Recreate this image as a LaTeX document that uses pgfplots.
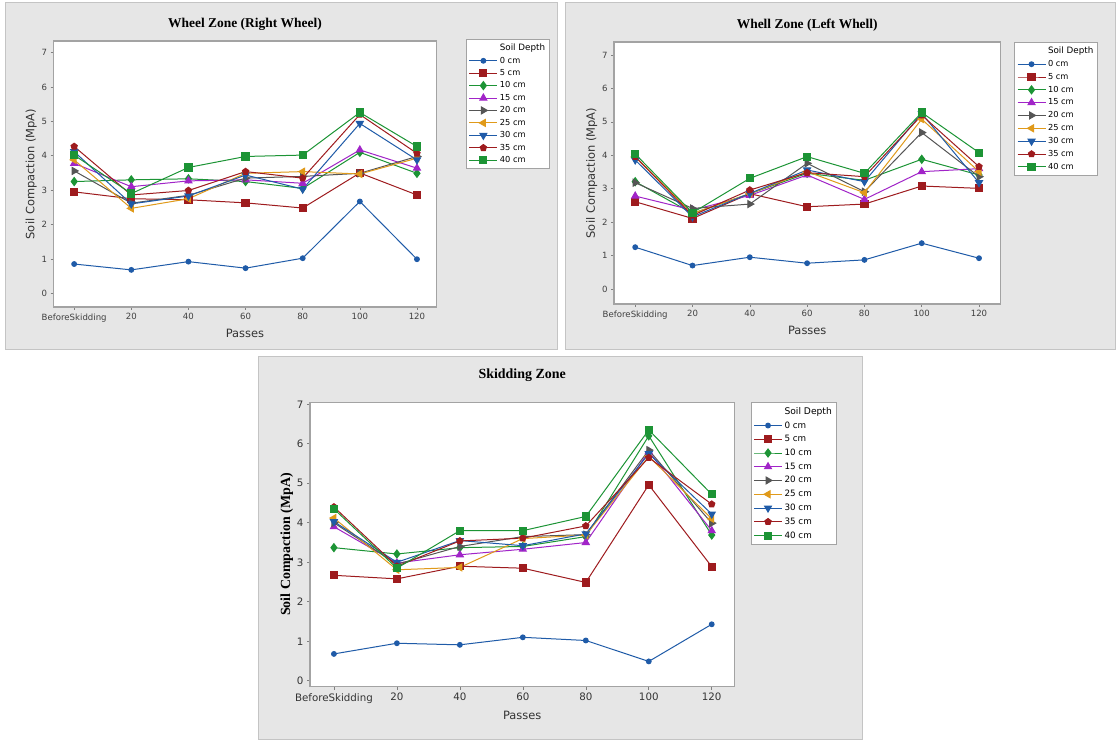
\documentclass[border=0pt]{standalone}
\usepackage{fontspec}
\setmainfont{DejaVu Sans}
\newfontfamily\serifb{Liberation Serif}
\usepackage{pgfplots}
\usepackage{pgfplotstable}
\pgfplotsset{compat=1.18}
\definecolor{cBlue}{HTML}{1F5BA8}
\definecolor{cRed}{HTML}{9E1B1E}
\definecolor{cGreen}{HTML}{1C9435}
\definecolor{cPurple}{HTML}{A124C8}
\definecolor{cGray}{HTML}{555555}
\definecolor{cOrange}{HTML}{E09A1A}
\definecolor{panelbg}{HTML}{E6E6E6}
\definecolor{panelline}{HTML}{C4C4C4}
\definecolor{frame}{HTML}{A3A3A3}

% Wheel zone, right wheel
\pgfplotstableread{
x d0 d5 d10 d15 d20 d25 d30 d35 d40
0 0.85 2.95 3.25 3.78 3.56 3.88 4.12 4.27 4.02
1 0.68 2.75 3.30 3.10 2.62 2.47 2.60 2.86 2.90
2 0.92 2.72 3.33 3.27 2.85 2.75 2.83 2.99 3.66
3 0.73 2.63 3.25 3.30 3.35 3.49 3.44 3.54 3.98
4 1.02 2.48 3.05 3.20 3.40 3.54 3.03 3.35 4.02
5 2.67 3.50 4.10 4.17 3.49 3.47 4.94 5.20 5.26
6 0.99 2.86 3.49 3.64 3.98 3.93 3.88 4.07 4.27
}\tabR
% Wheel zone, left wheel
\pgfplotstableread{
x d0 d5 d10 d15 d20 d25 d30 d35 d40
0 1.25 2.61 3.21 2.78 3.18 3.95 3.86 3.96 4.04
1 0.70 2.11 2.26 2.36 2.41 2.26 2.16 2.20 2.28
2 0.95 2.85 2.85 2.80 2.54 2.85 2.86 2.96 3.31
3 0.77 2.46 3.46 3.41 3.76 3.51 3.56 3.48 3.96
4 0.87 2.54 3.25 2.68 2.91 2.88 3.21 3.36 3.46
5 1.37 3.08 3.88 3.51 4.68 5.08 5.25 5.20 5.28
6 0.92 3.01 3.41 3.60 3.36 3.51 3.18 3.66 4.08
}\tabL
% Skidding zone
\pgfplotstableread{
x d0 d5 d10 d15 d20 d25 d30 d35 d40
0 0.68 2.67 3.37 3.90 4.00 4.12 4.03 4.40 4.35
1 0.95 2.58 3.21 2.98 2.95 2.81 3.00 2.90 2.85
2 0.91 2.90 3.37 3.19 3.40 2.87 3.55 3.54 3.80
3 1.10 2.85 3.40 3.33 3.65 3.60 3.42 3.61 3.80
4 1.02 2.49 3.65 3.50 3.70 3.69 3.72 3.92 4.16
5 0.49 4.96 6.20 5.80 5.84 5.68 5.75 5.65 6.35
6 1.43 2.89 3.69 3.80 3.99 4.10 4.22 4.47 4.72
}\tabS

\pgfplotsset{
  mt/.style={
    scale only axis, anchor=south west,
    xtick={0,...,6}, xticklabels={BeforeSkidding,20,40,60,80,100,120},
    ytick={0,...,7},
    axis line style={draw=frame, line width=1.1bp},
    tick align=outside, xtick pos=bottom, ytick pos=left,
    major tick length=3bp,
    tick style={draw=gray, line width=0.6bp},
    axis background/.style={fill=white},
    /pgf/number format/assume math mode=true,
    legend cell align=left,
    legend style={draw=frame, line width=1bp, fill=white, inner sep=2.5bp,
      anchor=north west},
    legend image code/.code={\draw[mark repeat=2,mark phase=2] plot coordinates {(0bp,0bp) (14bp,0bp) (28bp,0bp)};},
    every axis plot/.append style={line width=1bp},
    xlabel=Passes, ylabel={Soil Compaction (MpA)},
  },
  s0/.style={cBlue, mark=*, mark size=2.4bp},
  s5/.style={cRed, mark=square*, mark size=3.6bp},
  s10/.style={cGreen, mark=diamond*, mark size=4bp},
  s15/.style={cPurple, mark=triangle*, mark size=4bp},
  s20/.style={cGray, mark=triangle*, mark size=4bp, mark options={rotate=-90}},
  s25/.style={cOrange, mark=triangle*, mark size=4bp, mark options={rotate=90}},
  s30/.style={cBlue, mark=triangle*, mark size=4bp, mark options={rotate=180}},
  s35/.style={cRed, mark=pentagon*, mark size=3.3bp},
  s40/.style={cGreen, mark=square*, mark size=3.6bp},
}

\newcommand\allplots[2]{%
  \addlegendimage{empty legend}\addlegendentry{{\fontsize{#2}{#2}\selectfont Soil Depth}}
  \addplot[s0] table[x=x,y=d0]{#1};\addlegendentry{0 cm}
  \addplot[s5] table[x=x,y=d5]{#1};\addlegendentry{5 cm}
  \addplot[s10] table[x=x,y=d10]{#1};\addlegendentry{10 cm}
  \addplot[s15] table[x=x,y=d15]{#1};\addlegendentry{15 cm}
  \addplot[s20] table[x=x,y=d20]{#1};\addlegendentry{20 cm}
  \addplot[s25] table[x=x,y=d25]{#1};\addlegendentry{25 cm}
  \addplot[s30] table[x=x,y=d30]{#1};\addlegendentry{30 cm}
  \addplot[s35] table[x=x,y=d35]{#1};\addlegendentry{35 cm}
  \addplot[s40] table[x=x,y=d40]{#1};\addlegendentry{40 cm}
}

\begin{document}
\begin{tikzpicture}
\useasboundingbox[fill=white] (0,0) rectangle (1117bp,743bp);
\fill[panelbg, draw=panelline, line width=1bp] (5bp,393bp) rectangle (557bp,740bp);
\fill[panelbg, draw=panelline, line width=1bp] (565bp,393bp) rectangle (1115bp,740bp);
\fill[panelbg, draw=panelline, line width=1bp] (258bp,3bp) rectangle (862bp,386bp);

% Panel 1
\begin{axis}[mt, at={(53.6bp,436bp)}, width=382.8bp, height=266bp,
  xmin=-0.36, xmax=6.34, ymin=-0.4, ymax=7.34,
  title={\serifb\bfseries Wheel Zone (Right Wheel)},
  title style={font=\fontsize{13.5}{15}\selectfont, yshift=1bp},
  tick label style={font=\fontsize{8.6}{10}\selectfont, text=black!75},
  label style={font=\fontsize{11.5}{13}\selectfont, text=black!80},
  ylabel style={yshift=-2bp},
  xlabel style={yshift=-1bp},
  legend style={at={(1.077,1.0075)}, font=\fontsize{8.3}{9}\selectfont, row sep=0.85bp},
]
\allplots{\tabR}{8.8}
\end{axis}

% Panel 2
\begin{axis}[mt, at={(614bp,439bp)}, width=386.5bp, height=262bp,
  xmin=-0.37, xmax=6.375, ymin=-0.45, ymax=7.39,
  title={\serifb\bfseries Whell Zone (Left Whell)},
  title style={font=\fontsize{13.5}{15}\selectfont, yshift=1bp},
  tick label style={font=\fontsize{8.6}{10}\selectfont, text=black!75},
  label style={font=\fontsize{11.5}{13}\selectfont, text=black!80},
  ylabel style={yshift=-2bp},
  xlabel style={yshift=-1bp},
  legend style={at={(1.035,1.0)}, font=\fontsize{8.3}{9}\selectfont, row sep=1.25bp},
]
\allplots{\tabL}{8.8}
\end{axis}

% Panel 3
\begin{axis}[mt, at={(310bp,56.3bp)}, width=424.4bp, height=284.4bp,
  xmin=-0.38, xmax=6.36, ymin=-0.15, ymax=7.05,
  title={\serifb\bfseries Skidding Zone},
  title style={font=\fontsize{14}{16}\selectfont, yshift=11bp},
  tick label style={font=\fontsize{10.3}{12}\selectfont, text=black!80},
  xlabel style={font=\fontsize{11.5}{13}\selectfont, text=black!80, yshift=-1bp},
  ylabel style={font=\serifb\bfseries\fontsize{14}{16}\selectfont, yshift=-3bp},
  legend style={at={(1.038,1.0)}, font=\fontsize{8.8}{10}\selectfont, row sep=1.8bp},
]
\allplots{\tabS}{9.2}
\end{axis}
\end{tikzpicture}
\end{document}
